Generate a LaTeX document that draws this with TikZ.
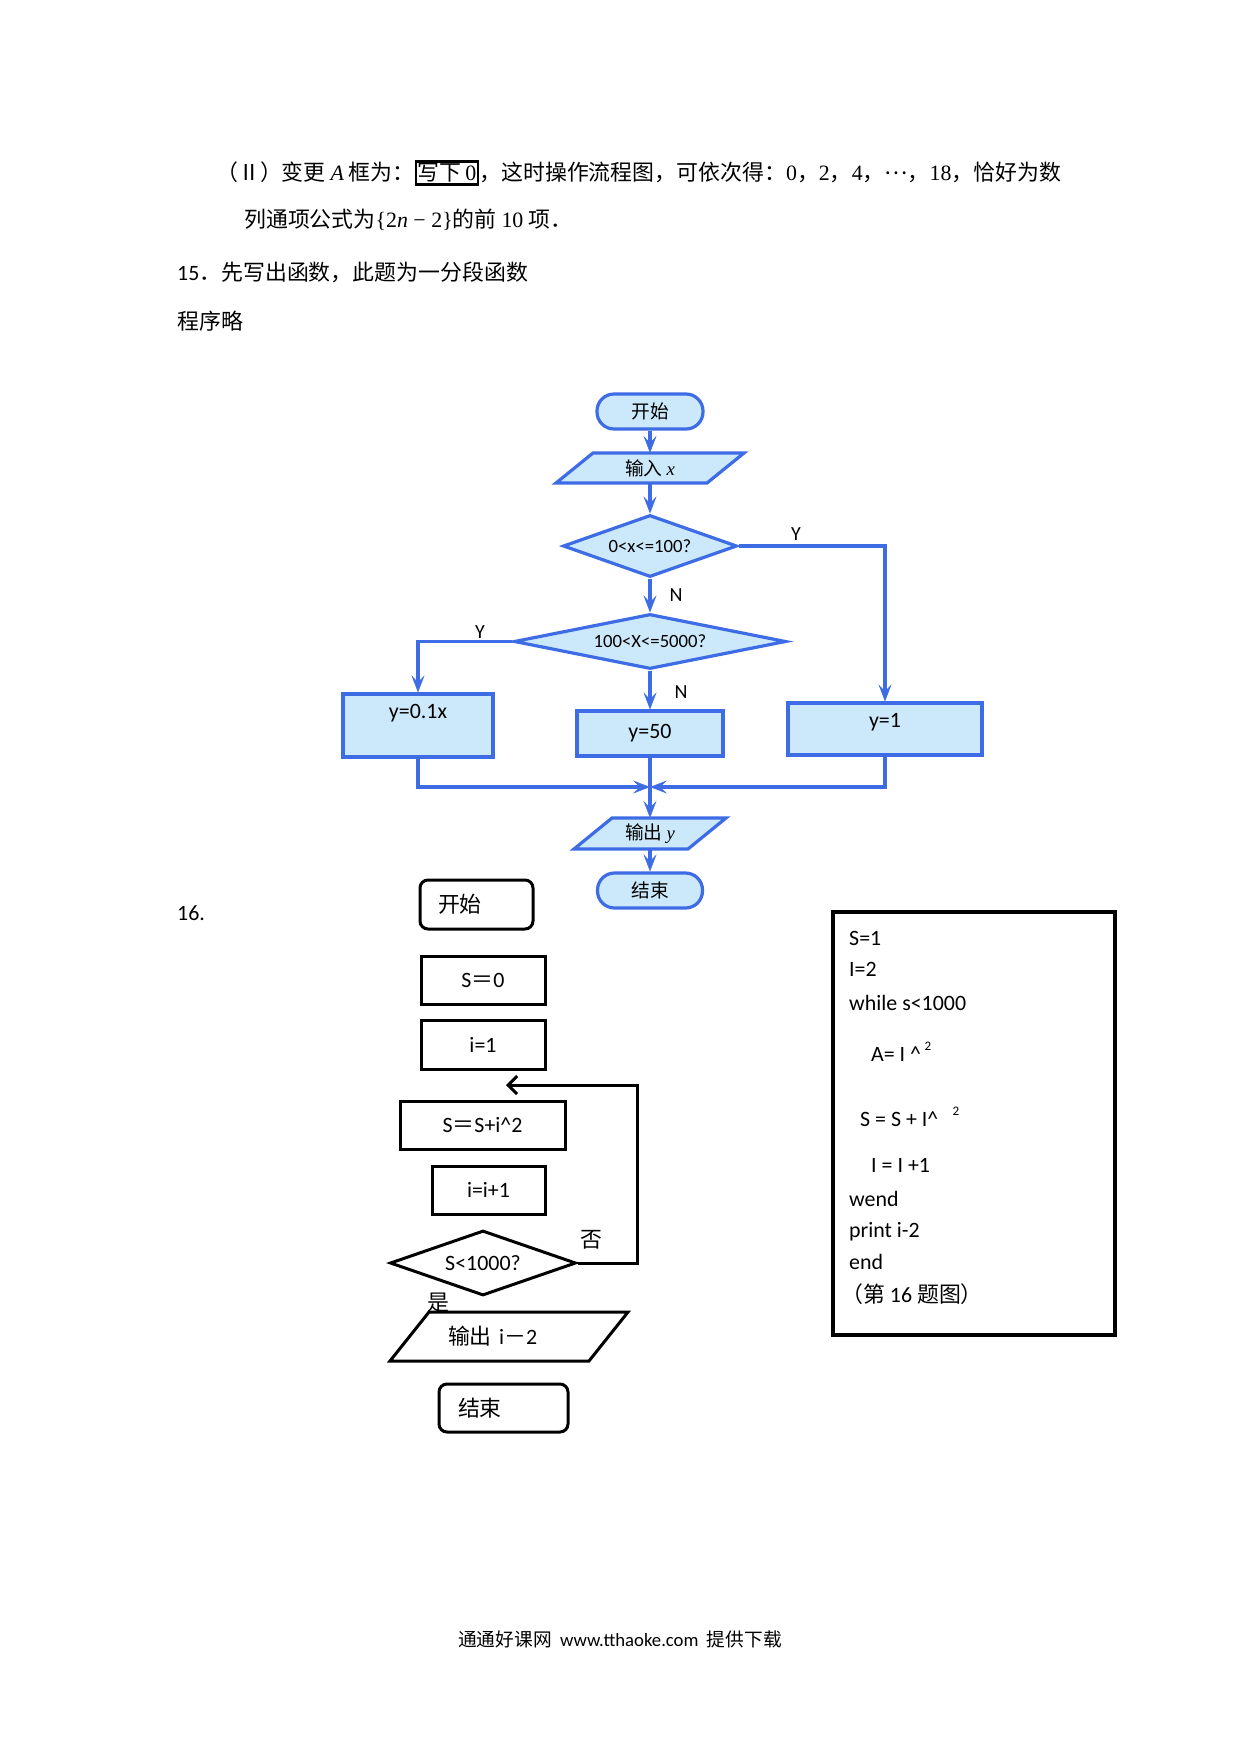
\documentclass[tikz,border=0pt]{standalone}
\usepackage{fontspec}
\setmainfont{Carlito}
\newfontfamily\cjk{Noto Sans CJK SC}
\newfontfamily\tnr{Liberation Serif}
\usetikzlibrary{arrows.meta,shapes.geometric}
\definecolor{bluel}{RGB}{62,108,229}
\definecolor{bluef}{RGB}{204,233,251}
\newcommand\fsA{\fontsize{21.9pt}{26pt}\selectfont}
\newcommand\fsB{\fontsize{18.7pt}{22pt}\selectfont}
\newcommand\fsC{\fontsize{20pt}{24pt}\selectfont}
\setlength\fboxsep{1pt}
\setlength\fboxrule{2.2pt}
\tikzset{
  ttext/.style={anchor=west, inner sep=0pt, font=\fsA},
  bl/.style={draw=bluel, line width=3.2pt, fill=bluef},
  bterm/.style={bl, rectangle, rounded corners=17pt, minimum width=106pt, minimum height=35pt, inner sep=0pt, font=\fsB},
  bdia/.style={bl, diamond, inner sep=0pt, font=\fsB},
  bbox/.style={bl, rectangle, inner sep=0pt, font=\fsA},
  btxt/.style={inner sep=0pt, font=\fsB},
  barr/.style={draw=bluel, line width=3.2pt, -{Stealth[length=17pt,width=13pt,inset=7pt,line width=0.5pt]}},
  lab/.style={inner sep=0pt, font=\fsC},
  kbox/.style={draw=black, line width=3pt, rectangle, inner sep=0pt, font=\fsA},
  kterm/.style={kbox, rounded corners=8pt},
  kdia/.style={kbox, diamond},
  kpar/.style={draw=black, line width=3pt},
  karr/.style={draw=black, line width=3pt, -{Straight Barb[length=9pt,width=18pt]}},
  ptext/.style={anchor=base west, inner sep=0pt, font=\fsA},
  psup/.style={inner sep=0pt, font=\fontsize{13pt}{15pt}\selectfont},
}
\begin{document}
\begin{tikzpicture}[x=1pt,y=-1pt]
\fill[white] (0,0) rectangle (1240,1754);
\useasboundingbox (0,0) rectangle (1240,1754);

% ---------- top text ----------
\node[ttext] (t1) at (216,173) {{\cjk （Ⅱ）变更}\ {\tnr\itshape A}\ {\cjk 框为：}\fbox{{\cjk 写下}\,{\tnr 0}}{\cjk ，这时操作流程图，可依次得：}{\tnr 0}{\cjk ，}{\tnr 2}{\cjk ，}{\tnr 4}{\cjk ，}\raisebox{0.3em}{\cjk …}{\cjk ，}{\tnr 18}{\cjk ，恰好为数}};
\node[ttext] (t2) at (244,220) {{\cjk 列通项公式为}{\tnr \{2\textit{n} − 2\}}{\cjk 的前}\ {\tnr 10}\ {\cjk 项．}};
\node[ttext] (t3) at (177,272) {15{\cjk ．先写出函数，此题为一分段函数}};
\node[ttext] (t4) at (177,321) {{\cjk 程序略}};

% ---------- blue flowchart ----------
\node[bterm] (start1) at (650,411.5) {\raisebox{-2pt}{\cjk 开始}};
\path[bl] (593,453) -- (744,453) -- (707,483) -- (556,483) -- cycle;
\node[btxt, minimum height=30pt] (in1) at (650,468) {{\cjk 输入}\ {\tnr\itshape x}};
\node[bdia, minimum width=174pt, minimum height=62pt, shape aspect=2.8] (d1) at (650,546) {0<x<=100?};
\node[bdia, minimum width=272pt, minimum height=55pt, shape aspect=4.9] (d2) at (650,641.5) {100<X<=5000?};
\node[bbox, minimum width=150pt, minimum height=63pt, label={[lab, font=\fsA, yshift=12pt]center:y=0.1x}] (yA) at (418,725.5) {};
\node[bbox, minimum width=146pt, minimum height=45pt] (y50) at (650,733.5) {y=50};
\node[bbox, minimum width=194pt, minimum height=52pt, label={[lab, font=\fsA, yshift=7pt]center:y=1}] (y1) at (885,729) {};
\path[bl] (612,818) -- (726,818) -- (688,849) -- (574,849) -- cycle;
\node[btxt, minimum height=31pt] (out1) at (650,833.5) {{\cjk 输出}\ {\tnr\itshape y}};
\node[bterm, minimum width=105pt] (end1) at (650,890.5) {\raisebox{-2pt}{\cjk 结束}};
\coordinate (m) at (650,787);

\draw[barr] (start1.south) -- (in1.north);
\draw[barr] (in1.south) -- (d1.north);
\draw[barr] (d1.south) -- (d2.north);
\draw[barr] (d2.south) -- (y50.north);
\draw[barr] (d1.east) -| (y1.north);
\draw[barr] (d2.west) -| (yA.north);
\draw[barr] (yA.south) |- (m);
\draw[barr] (y1.south) |- (m);
\draw[barr] (y50.south) -- (out1.north);
\draw[barr] (out1.south) -- (end1.north);

\node[lab] (lY1) at (796,534) {Y};
\node[lab] (lN1) at (676,595) {N};
\node[lab] (lY2) at (480,632) {Y};
\node[lab] (lN2) at (681,692) {N};

% ---------- black flowchart ----------
\node[ttext] (t16) at (177,913) {16.};
\node[kterm, minimum width=113pt, minimum height=49pt, text width=77pt, align=left, inner xsep=18pt] (start2) at (476.5,904.5) {\raisebox{-3pt}{\cjk 开始}};
\node[kbox, minimum width=124pt, minimum height=48pt] (s0) at (483,980) {S{\cjk ＝}0};
\node[kbox, minimum width=124pt, minimum height=49pt] (i1) at (483,1044.5) {i=1};
\node[kbox, minimum width=165pt, minimum height=48pt] (ss) at (482.5,1125) {S{\cjk ＝}S+i\textasciicircum 2};
\node[kbox, minimum width=113pt, minimum height=48pt] (ii) at (488.5,1190) {i=i+1};
\node[kdia, minimum width=186pt, minimum height=65pt, shape aspect=2.86] (dd) at (483,1263) {\raisebox{-4pt}{S<1000?}};
\path[kpar] (429,1312) -- (628,1312) -- (589,1361) -- (390,1361) -- cycle;
\node[inner sep=0pt, font=\fsA, minimum height=49pt, text width=122pt, align=left] (out2) at (509,1336.5) {{\cjk 输出} i{\cjk －}2};
\node[kterm, minimum width=129pt, minimum height=48pt, text width=91pt, align=left, inner xsep=19pt] (end2) at (503.5,1408) {\raisebox{-2pt}{\cjk 结束}};
\coordinate (loopend) at (506,1085);
\draw[karr] (dd.east) -- ++(60,0) |- (loopend);
\node[inner sep=0pt, font=\fsA] (lno) at (591,1240) {{\cjk 否}};
\node[inner sep=0pt, font=\fsA] (lyes) at (438,1303) {{\cjk 是}};

% ---------- program box ----------
\node[draw=black, line width=3.5pt, minimum width=282pt, minimum height=423pt, inner sep=0pt] (prog) at (974,1123.5) {};
\node[ptext] (p1) at (849,945) {S=1};
\node[ptext] (p2) at (849,976) {I=2};
\node[ptext] (p3) at (849,1010) {while s<1000};
\node[ptext] (p4) at (871,1061) {A= I \textasciicircum};
\node[psup] (p4s) at (928,1046) {2};
\node[ptext] (p5) at (860,1126) {S = S + I\textasciicircum};
\node[psup] (p5s) at (956,1111) {2};
\node[ptext] (p6) at (871,1172) {I = I +1};
\node[ptext] (p7) at (849,1206) {wend};
\node[ptext] (p8) at (849,1237) {print i-2};
\node[ptext] (p9) at (849,1269) {end};
\node[ptext] (p10) at (841,1302) {{\cjk （第} 16 {\cjk 题图）}};

% ---------- footer ----------
\node[inner sep=0pt, font=\fsB] (foot) at (620,1639) {{\cjk 通通好课网}\ \ www.tthaoke.com\ \ {\cjk 提供下载}};
\end{tikzpicture}
\end{document}
